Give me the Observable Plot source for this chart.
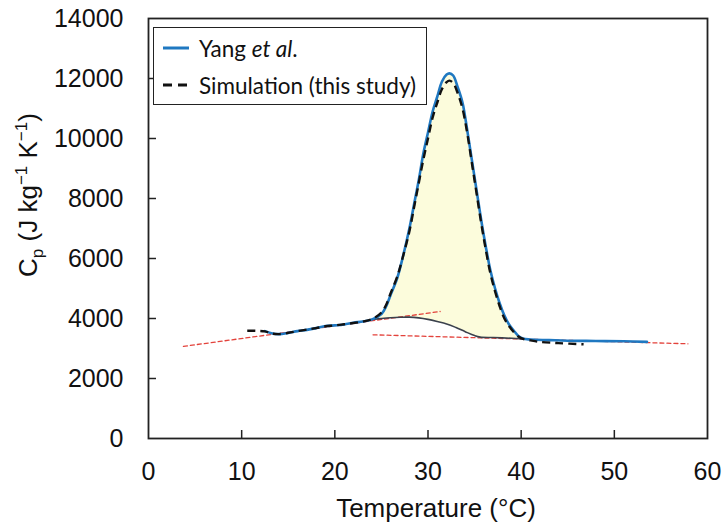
<!DOCTYPE html>
<html><head><meta charset="utf-8">
<script src="https://cdn.jsdelivr.net/npm/d3@7"></script>
<script src="https://cdn.jsdelivr.net/npm/@observablehq/plot@0.6"></script>
<style>
body{margin:0;background:#fff;}
#wrap{position:relative;width:727px;height:527px;}
#legend{position:absolute;left:153px;top:27px;width:274px;height:78px;border:1.5px solid #222;background:#fff;font-family:Lato,'Open Sans',sans-serif;font-size:22.5px;color:#111;box-sizing:border-box;}
.row{position:absolute;left:0;height:30px;display:flex;align-items:center;white-space:nowrap;}
.sw{width:26px;height:0;margin-left:9px;margin-right:10px;}
</style></head><body><div id="wrap"></div>
<script>
// Yang et al. (blue solid)
const yangT  = [12.5,13.2,14,15,16,17,18,19,20,21,22,23,24,25,25.5,26,26.7,27.3,28,28.5,29,29.5,30,30.5,31,31.5,32,32.3,32.7,33.2,33.7,34.2,34.7,35.2,35.7,36.2,36.7,37.2,37.7,38.2,38.7,39.2,39.7,40.2,41,43,45,48,51,53.5];
const yangCp = [3580,3510,3480,3520,3580,3620,3680,3750,3770,3800,3860,3900,3970,4150,4400,4800,5350,6050,7000,7800,8600,9500,10200,10900,11400,11900,12130,12170,12100,11700,11200,10300,9300,8300,7300,6400,5600,5000,4500,4100,3800,3600,3420,3330,3300,3280,3260,3250,3240,3220];
// Simulation (black dashed)
const simT  = [10.6,11.5,12.5,13.2,14,15,16,17,18,19,20,21,22,23,24,25,25.5,26,26.7,27.3,28,28.5,29,29.5,30,30.5,31,31.5,32,32.3,32.7,33.2,33.7,34.2,34.7,35.2,35.7,36.2,36.7,37.2,37.7,38.2,38.7,39.2,39.7,40.2,41,42,44,46.7];
const simCp = [3590,3590,3570,3500,3480,3520,3580,3630,3680,3740,3770,3810,3850,3900,3980,4200,4450,4850,5400,6050,6900,7700,8500,9300,10000,10700,11200,11650,11880,11930,11850,11500,11000,10200,9200,8200,7200,6300,5500,4900,4400,4000,3750,3550,3400,3320,3270,3220,3180,3140];
// Sensible-heat baseline (dark grey)
const baseT  = [24,25,26,27,28,29,30,31,32,33,34,35,35.6,37,39,40.2];
const baseCp = [3970,4000,4025,4040,4045,4020,3970,3900,3820,3700,3560,3430,3380,3365,3340,3320];
// Tangent lines (red dotted)
const tanId = ["a","a","b","b"];
const tanT  = [3.75,31.3,24.1,57.9];
const tanCp = [3070,4233,3457,3157];
// axes
const xTicks = [0,10,20,30,40,50,60];
const yTicks = [0,2000,4000,6000,8000,10000,12000,14000];
const legendLabels = ["Yang <i>et al</i>.", "Simulation (this study)"];

const yang = yangT.map((t,i)=>({t, cp:yangCp[i]}));
const sim = simT.map((t,i)=>({t, cp:simCp[i]}));
const base = baseT.map((t,i)=>({t, cp:baseCp[i]}));
const tang = tanT.map((t,i)=>({t, cp:tanCp[i], id:tanId[i]}));
const peakPart = yang.filter(d => d.t >= 24 && d.t <= 40.2);
const fillPoly = peakPart.concat(base.slice().reverse());

const W=727,H=527,mL=148,mR=20,mT=18,mB=89;
const chart = Plot.plot({
  width:W, height:H, marginLeft:mL, marginRight:mR, marginTop:mT, marginBottom:mB,
  x:{domain:[0,60]}, y:{domain:[0,14000]},
  style:{fontFamily:"'Liberation Sans', Arial, sans-serif", fontSize:"25px", color:"#111", background:"#fff"},
  marks:[
    Plot.line(fillPoly, {x:"t", y:"cp", fill:"#fcfcdc", stroke:"none", curve:"catmull-rom"}),
    Plot.line(tang, {x:"t", y:"cp", z:"id", stroke:"#e3423b", strokeWidth:1.3, strokeDasharray:"4,3"}),
    Plot.line(base, {x:"t", y:"cp", stroke:"#3b414d", strokeWidth:1.6, curve:"catmull-rom"}),
    Plot.line(yang, {x:"t", y:"cp", stroke:"#1f78c1", strokeWidth:2.6, curve:"catmull-rom"}),
    Plot.line(sim, {x:"t", y:"cp", stroke:"#111", strokeWidth:2.4, strokeDasharray:"8,5", strokeLinecap:"butt", curve:"catmull-rom"}),
    Plot.ruleX(xTicks.slice(1,-1), {x:d=>d, insetTop:H-mT-mB-8, stroke:"#222", strokeWidth:1.5}),
    Plot.ruleY(yTicks.slice(1,-1), {y:d=>d, insetRight:W-mL-mR-8, stroke:"#222", strokeWidth:1.5}),
    Plot.axisX({ticks:xTicks, tickSize:0, tickPadding:24, label:null}),
    Plot.axisY({ticks:yTicks, tickSize:0, tickPadding:25, label:null, tickFormat:d3.format("d")}),
    Plot.frame({stroke:"#222", strokeWidth:1.8})
  ]
});
const svg = d3.select(chart);
const yl = svg.append("text").attr("transform","translate(37,195) rotate(-90)").attr("text-anchor","middle")
  .attr("font-size",26).attr("fill","#111");
yl.append("tspan").text("C");
yl.append("tspan").attr("font-size",17).attr("dy",6).text("p");
yl.append("tspan").attr("dy",-6).text(" (J kg");
yl.append("tspan").attr("font-size",17).attr("dy",-10).text("\u22121");
yl.append("tspan").attr("dy",10).text(" K");
yl.append("tspan").attr("font-size",17).attr("dy",-10).text("\u22121");
yl.append("tspan").attr("dy",10).text(")");
svg.append("text").attr("x",436).attr("y",517).attr("text-anchor","middle").attr("font-size",26).attr("fill","#111").text("Temperature (\u00b0C)");

const wrap = document.getElementById("wrap");
wrap.appendChild(chart);
const lg = document.createElement("div"); lg.id="legend";
const swatches = [
  '<svg class="sw" width="26" height="4" style="height:4px"><line x1="0" y1="2" x2="26" y2="2" stroke="#1f78c1" stroke-width="3"/></svg>',
  '<svg class="sw" width="26" height="4" style="height:4px"><line x1="0" y1="2" x2="26" y2="2" stroke="#111" stroke-width="3" stroke-dasharray="9,6"/></svg>'
];
legendLabels.forEach((lab,i)=>{
  const r=document.createElement("div"); r.className="row"; r.style.top=(i===0?5:42)+"px";
  r.innerHTML = swatches[i] + '<span>'+lab+'</span>';
  lg.appendChild(r);
});
wrap.appendChild(lg);
</script></body></html>
